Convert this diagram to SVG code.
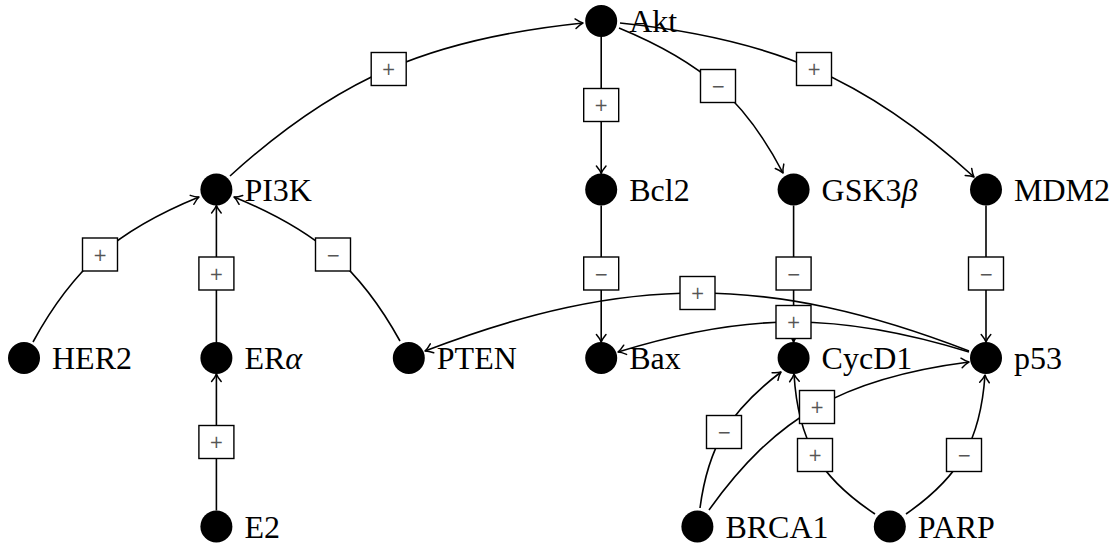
<svg xmlns="http://www.w3.org/2000/svg" width="1118" height="546" viewBox="0 0 1118 546">
<style>
.node circle{fill:#000}
.node text{font-family:"Liberation Serif","DejaVu Serif",serif;font-size:32px;fill:#000}
.edge{fill:none;stroke:#000;stroke-width:1.6;marker-end:url(#arr)}
.lbl rect{fill:#fff;stroke:#000;stroke-width:1.4}
.lbl text{font-family:"DejaVu Sans",sans-serif;font-size:17px;fill:#555;text-anchor:middle}
</style>
<defs>
<marker id="arr" viewBox="-9 -6 10 12" refX="0" refY="0" markerWidth="10" markerHeight="12" markerUnits="userSpaceOnUse" orient="auto" style="overflow:visible">
<path d="M-7.5,-4.8 Q-3,-1 0,0 Q-3,1 -7.5,4.8" fill="none" stroke="#000" stroke-width="1.5" stroke-linecap="round" stroke-linejoin="round"/>
</marker>
</defs>
<g id="nodes">
<g id="n-Akt" class="node"><circle cx="601.2" cy="21" r="16"/><text x="629.2" y="32">Akt</text></g>
<g id="n-PI3K" class="node"><circle cx="216.4" cy="189.5" r="16"/><text x="244.4" y="200.5">PI3K</text></g>
<g id="n-Bcl2" class="node"><circle cx="601.2" cy="189.5" r="16"/><text x="629.2" y="200.5">Bcl2</text></g>
<g id="n-GSK3b" class="node"><circle cx="793.6" cy="189.5" r="16"/><text x="821.6" y="200.5">GSK3<tspan font-style="italic">β</tspan></text></g>
<g id="n-MDM2" class="node"><circle cx="986" cy="189.5" r="16"/><text x="1014" y="200.5">MDM2</text></g>
<g id="n-HER2" class="node"><circle cx="24" cy="358" r="16"/><text x="52" y="369">HER2</text></g>
<g id="n-ERa" class="node"><circle cx="216.4" cy="358" r="16"/><text x="244.4" y="369">ER<tspan font-style="italic">α</tspan></text></g>
<g id="n-PTEN" class="node"><circle cx="408.8" cy="358" r="16"/><text x="436.8" y="369">PTEN</text></g>
<g id="n-Bax" class="node"><circle cx="601.2" cy="358" r="16"/><text x="629.2" y="369">Bax</text></g>
<g id="n-CycD1" class="node"><circle cx="793.6" cy="358" r="16"/><text x="821.6" y="369">CycD1</text></g>
<g id="n-p53" class="node"><circle cx="986" cy="358" r="16"/><text x="1014" y="369">p53</text></g>
<g id="n-E2" class="node"><circle cx="216.4" cy="526.5" r="16"/><text x="244.4" y="537.5">E2</text></g>
<g id="n-BRCA1" class="node"><circle cx="697.4" cy="526.5" r="16"/><text x="725.4" y="537.5">BRCA1</text></g>
<g id="n-PARP" class="node"><circle cx="889.8" cy="526.5" r="16"/><text x="917.8" y="537.5">PARP</text></g>
</g>
<g id="connectors">
<path class="edge" d="M230,176 C336.9,78.7 428.7,38.9 583,23"/>
<path class="edge" d="M601.2,37 L601.2,173.5"/>
<path class="edge" d="M619,28 C702.4,62.4 745,100 783,173"/>
<path class="edge" d="M620,23 C773.7,38.7 865.7,78.7 974,177"/>
<path class="edge" d="M33,342 C73.1,268.3 116.3,230.7 199,197"/>
<path class="edge" d="M216.4,342 L216.4,205.5"/>
<path class="edge" d="M400,341 C359.9,268.4 316.7,231 234,197"/>
<path class="edge" d="M216.4,510.5 L216.4,374"/>
<path class="edge" d="M601.2,205.5 L601.2,342"/>
<path class="edge" d="M793.6,205.5 L793.6,342"/>
<path class="edge" d="M986,205.5 L986,342"/>
<path class="edge" d="M969,351 C768.4,273.7 627,273.7 425,351"/>
<path class="edge" d="M969,352 C839.1,312 747.9,312 618,352"/>
<path class="edge" d="M700,508 C708,447 729,411.6 781,372"/>
<path class="edge" d="M709,510 C775.9,416.5 843.5,378.1 969,362"/>
<path class="edge" d="M875,514 C819,476.9 798,440.5 794,374"/>
<path class="edge" d="M906,514 C959.9,476.6 980.5,440.4 985,375"/>
<g class="lbl"><rect x="371.2" y="52.5" width="35" height="33"/><text x="388.7" y="75">+</text></g>
<g class="lbl"><rect x="583.7" y="88.5" width="35" height="33"/><text x="601.2" y="111">+</text></g>
<g class="lbl"><rect x="700.5" y="69.5" width="35" height="33"/><text x="718" y="92">−</text></g>
<g class="lbl"><rect x="796.5" y="52.5" width="35" height="33"/><text x="814" y="75">+</text></g>
<g class="lbl"><rect x="82.5" y="238" width="35" height="33"/><text x="100" y="260.5">+</text></g>
<g class="lbl"><rect x="198.9" y="257" width="35" height="33"/><text x="216.4" y="279.5">+</text></g>
<g class="lbl"><rect x="315.5" y="238" width="35" height="33"/><text x="333" y="260.5">−</text></g>
<g class="lbl"><rect x="198.9" y="425.5" width="35" height="33"/><text x="216.4" y="448">+</text></g>
<g class="lbl"><rect x="583.7" y="257" width="35" height="33"/><text x="601.2" y="279.5">−</text></g>
<g class="lbl"><rect x="776.1" y="257" width="35" height="33"/><text x="793.6" y="279.5">−</text></g>
<g class="lbl"><rect x="968.5" y="257" width="35" height="33"/><text x="986" y="279.5">−</text></g>
<g class="lbl"><rect x="680" y="276.5" width="35" height="33"/><text x="697.5" y="299">+</text></g>
<g class="lbl"><rect x="776" y="305.5" width="35" height="33"/><text x="793.5" y="328">+</text></g>
<g class="lbl"><rect x="706.5" y="415.5" width="35" height="33"/><text x="724" y="438">−</text></g>
<g class="lbl"><rect x="799.5" y="390.5" width="35" height="33"/><text x="817" y="413">+</text></g>
<g class="lbl"><rect x="797.5" y="438.5" width="35" height="33"/><text x="815" y="461">+</text></g>
<g class="lbl"><rect x="946.5" y="438.5" width="35" height="33"/><text x="964" y="461">−</text></g>
</g>
</svg>
